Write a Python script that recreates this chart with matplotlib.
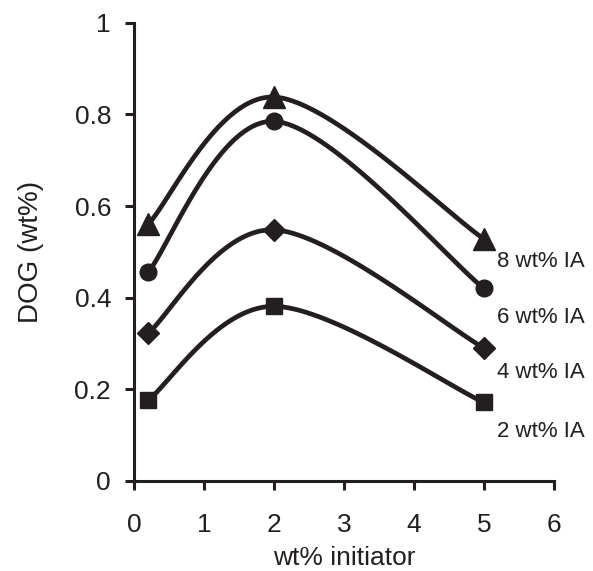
import matplotlib
matplotlib.use("Agg")
import matplotlib.pyplot as plt
import numpy as np

plt.rcParams['font.family'] = ['Liberation Sans', 'DejaVu Sans']

# data
initiator = [0.2, 2, 5]
ia_8 = [0.56, 0.838, 0.528]
ia_6 = [0.455, 0.785, 0.42]
ia_4 = [0.322, 0.548, 0.29]
ia_2 = [0.176, 0.381, 0.171]
series_labels = ["8 wt% IA", "6 wt% IA", "4 wt% IA", "2 wt% IA"]
label_y = [0.478, 0.356, 0.236, 0.107]
markers = ["^", "o", "D", "s"]
marker_sizes = [16, 12, 11, 12]

ink = "#231f20"


def smooth(xs, ys, n=40):
    # Excel-style smoothed line through the points (cubic Bezier segments)
    xs = np.asarray(xs, float)
    ys = np.asarray(ys, float)
    pts = np.column_stack([xs, ys])
    out = []
    for i in range(len(pts) - 1):
        p0 = pts[i - 1] if i > 0 else pts[i]
        p1 = pts[i]
        p2 = pts[i + 1]
        p3 = pts[i + 2] if i + 2 < len(pts) else pts[i + 1]
        c1 = p1 + (p2 - p0) / 6
        c2 = p2 - (p3 - p1) / 6
        t = np.linspace(0, 1, n)[:, None]
        seg = ((1 - t) ** 3) * p1 + 3 * ((1 - t) ** 2) * t * c1 + 3 * (1 - t) * t ** 2 * c2 + t ** 3 * p2
        out.append(seg)
    curve = np.vstack(out)
    return curve[:, 0], curve[:, 1]


fig = plt.figure(figsize=(5.93, 5.71), dpi=100)
ax = fig.add_axes([0.226, 0.158, 0.708, 0.802])

for vals, m, ms, lab, ly in zip([ia_8, ia_6, ia_4, ia_2], markers, marker_sizes, series_labels, label_y):
    cx, cy = smooth(initiator, vals)
    ax.plot(cx, cy, color=ink, lw=3.4, solid_capstyle="round")
    ax.plot(initiator, vals, linestyle="none", marker=m, ms=ms, color=ink)
    ax.text(5.19, ly, lab, fontsize=16, color=ink, va="center", ha="left")

ax.set_xlim(0, 6)
ax.set_ylim(0, 1)
ax.set_xticks(range(0, 7))
ax.set_yticks([0, 0.2, 0.4, 0.6, 0.8, 1])
ax.set_yticklabels(["0", "0.2", "0.4", "0.6", "0.8", "1"])

for s in ["top", "right"]:
    ax.spines[s].set_visible(False)
for s in ["left", "bottom"]:
    ax.spines[s].set_linewidth(2.2)
    ax.spines[s].set_color(ink)

ax.tick_params(axis="both", direction="out", width=2.2, length=6.5, color=ink,
               labelsize=19, labelcolor=ink)
ax.tick_params(axis="x", pad=17)
ax.tick_params(axis="y", pad=10)

ax.set_xlabel("wt% initiator", fontsize=19, color=ink, labelpad=6)
ax.set_ylabel("DOG (wt%)", fontsize=20, color=ink, labelpad=22)

fig.savefig("out.png", dpi=100)
